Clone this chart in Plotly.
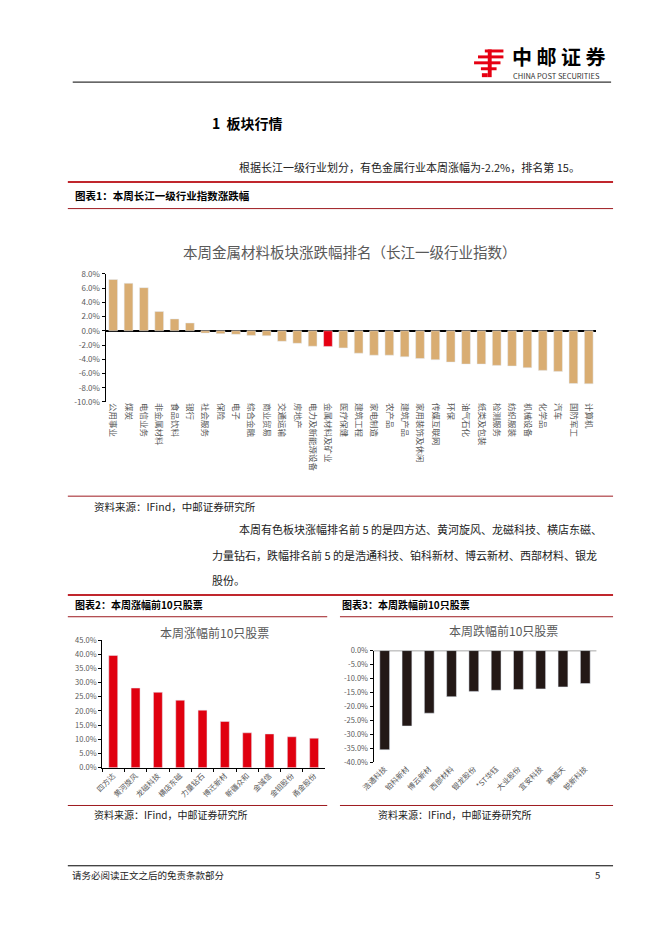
import plotly.graph_objects as go

# 图表1 数据
industries = ['公用事业', '煤炭', '电信业务', '非金属材料', '食品饮料', '银行', '社会服务', '保险',
              '电子', '综合金融', '商业贸易', '交通运输', '房地产', '电力及新能源设备', '金属材料及矿业',
              '医疗保健', '建筑工程', '家电制造', '农产品', '建筑产品', '家用装饰及休闲', '传媒互联网',
              '环保', '油气石化', '纸类及包装', '检测服务', '纺织服装', '机械设备', '化学品', '汽车',
              '国防军工', '计算机']
industry_chg = [7.2, 6.67, 6.06, 2.7, 1.67, 1.1, -0.32, -0.4, -0.5, -0.65, -0.7, -1.48, -1.76, -2.17,
                -2.2, -2.4, -3.15, -3.43, -3.43, -3.66, -3.9, -4.07, -4.4, -4.68, -4.68, -4.86, -4.95,
                -5.19, -5.56, -5.7, -7.4, -7.45]
highlight = '金属材料及矿业'

# 图表2 数据
up_names = ['四方达', '黄河旋风', '龙磁科技', '横店东磁', '力量钻石', '博迁新材', '新疆众和', '金诚信',
            '金钼股份', '甬金股份']
up_chg = [39.6, 28.1, 26.6, 23.8, 20.3, 16.3, 12.3, 11.9, 10.9, 10.4]

# 图表3 数据
down_names = ['浩通科技', '铂科新材', '博云新材', '西部材料', '银龙股份', '*ST华钰', '大业股份', '宜安科技',
              '赛福天', '锐新科技']
down_chg = [-35.5, -27.0, -22.4, -16.5, -14.6, -14.2, -13.9, -13.7, -13.0, -11.8]

ticks1 = [-10, -8, -6, -4, -2, 0, 2, 4, 6, 8]
ticks2 = [0, 5, 10, 15, 20, 25, 30, 35, 40, 45]
ticks3 = [0, -5, -10, -15, -20, -25, -30, -35, -40]

W, H = 662, 936
FONT = 'Noto Sans CJK SC'
GRAY = '#595959'


def px(x):
    return x / W


def py(y):
    return 1 - y / H


def lbl(v):
    return f'{v:.1f}%'


fig = go.Figure()

colors1 = ['#E60012' if n == highlight else '#D9AD72' for n in industries]
fig.add_trace(go.Bar(x=industries, y=industry_chg, marker_color=colors1, xaxis='x', yaxis='y',
                     showlegend=False))
fig.add_trace(go.Bar(x=up_names, y=up_chg, marker_color='#E0000F', xaxis='x2', yaxis='y2',
                     width=0.4, showlegend=False))
fig.add_trace(go.Bar(x=down_names, y=down_chg, marker_color='#231816', xaxis='x3', yaxis='y3',
                     width=0.44, showlegend=False))

tickfont = dict(family=FONT, size=7.5, color=GRAY)

fig.update_layout(
    width=W, height=H, margin=dict(l=0, r=0, t=0, b=0),
    paper_bgcolor='white', plot_bgcolor='white',
    font=dict(family=FONT),
    bargap=0.43,
    xaxis=dict(domain=[px(93.5), px(595)], type='category', showline=False, ticks='',
               tickangle=90, tickfont=dict(family=FONT, size=8.5, color=GRAY), anchor='y'),
    yaxis=dict(domain=[py(400.7), py(271)], range=[-10, 8], tickvals=ticks1,
               ticktext=[lbl(v) for v in ticks1], showline=True, linecolor='black', linewidth=1,
               ticks='outside', ticklen=3, tickcolor='black', showgrid=False, zeroline=True,
               zerolinecolor='black', zerolinewidth=1.5,
               tickfont=dict(family=FONT, size=8, color=GRAY), anchor='x'),
    xaxis2=dict(domain=[px(90), px(318)], type='category', showline=True, linecolor='black',
                linewidth=1, ticks='outside', tickson='boundaries', ticklen=3, tickcolor='black',
                tickangle=-45, tickfont=tickfont, anchor='y2'),
    yaxis2=dict(domain=[py(770.7), py(641.7)], range=[0, 45], tickvals=ticks2,
                ticktext=[lbl(v) for v in ticks2], showline=True, linecolor='black', linewidth=1,
                ticks='outside', ticklen=3, tickcolor='black', showgrid=False, zeroline=False,
                tickfont=tickfont, anchor='x2'),
    xaxis3=dict(domain=[px(367.3), px(595)], type='category', showline=False, ticks='',
                tickangle=-45, tickfont=tickfont, anchor='y3'),
    yaxis3=dict(domain=[py(765.3), py(652.3)], range=[-40, 0], tickvals=ticks3,
                ticktext=[lbl(v) for v in ticks3], showline=True, linecolor='black', linewidth=1,
                ticks='outside', ticklen=3, tickcolor='black', showgrid=False, zeroline=False,
                tickfont=tickfont, anchor='x3'),
)

# 图表3 的零轴线
fig.add_shape(type='line', xref='x3 domain', x0=0, x1=1, yref='y3', y0=0, y1=0,
              line=dict(color='black', width=1))


def hline(y, x0, x1, color, width):
    fig.add_shape(type='line', xref='paper', yref='paper', x0=px(x0), x1=px(x1), y0=py(y), y1=py(y),
                  line=dict(color=color, width=width))


hline(77, 60, 610, 'black', 1)
hline(178, 55, 612, '#C0262D', 2)
hline(205, 55, 612, '#9E1B20', 1)
hline(496, 55, 612, '#9E1B20', 1)
hline(596, 55, 612, '#C0262D', 2)
hline(618, 55, 320, '#9E1B20', 1)
hline(618, 333, 612, '#9E1B20', 1)
hline(809, 55, 320, '#9E1B20', 1)
hline(809, 333, 612, '#9E1B20', 1)
hline(870, 55, 612, 'black', 1)

# logo 图形
for x0, x1, y0, y1 in [(481, 500, 44, 47), (474, 500, 50, 53), (470, 497, 56, 59),
                       (477, 493, 62, 65), (484, 488, 44, 72), (478, 484, 68, 72)]:
    fig.add_shape(type='rect', xref='paper', yref='paper', x0=px(x0), x1=px(x1), y0=py(y1), y1=py(y0),
                  fillcolor='#E60012', line=dict(width=0))


def text(x, y, s, size, color='black', anchor='left', bold=False):
    if bold:
        s = f'<b>{s}</b>'
    fig.add_annotation(x=px(x), y=py(y), xref='paper', yref='paper', text=s, showarrow=False,
                       xanchor=anchor, yanchor='middle', font=dict(family=FONT, size=size, color=color))


text(507, 51, '中 邮 证 券', 20, 'black', bold=True)
text(508, 70, 'CHINA POST SECURITIES', 7.5, '#333333')
text(200, 118, '1  板块行情', 14, 'black', bold=True)
text(228, 163, '根据长江一级行业划分，有色金属行业本周涨幅为-2.2%，排名第 15。', 11, '#222222')
text(60, 192, '图表1：本周长江一级行业指数涨跌幅', 10.5, 'black', bold=True)
text(343, 248, '本周金属材料板块涨跌幅排名（长江一级行业指数）', 14.5, GRAY, anchor='center')
text(80, 506, '资料来源：IFind，中邮证券研究所', 10.5, '#222222')
text(228, 529, '本周有色板块涨幅排名前 5 的是四方达、黄河旋风、龙磁科技、横店东磁、', 11, '#222222')
text(200, 556, '力量钻石，跌幅排名前 5 的是浩通科技、铂科新材、博云新材、西部材料、银龙', 11, '#222222')
text(200, 581, '股份。', 11, '#222222')
text(60, 606, '图表2：本周涨幅前10只股票', 10, 'black', bold=True)
text(333, 606, '图表3：本周跌幅前10只股票', 10, 'black', bold=True)
text(205, 634, '本周涨幅前10只股票', 12, GRAY, anchor='center')
text(500, 632, '本周跌幅前10只股票', 12, GRAY, anchor='center')
text(80, 818, '资料来源：IFind，中邮证券研究所', 10, '#222222')
text(370, 818, '资料来源：IFind，中邮证券研究所', 10, '#222222')
text(57, 879, '请务必阅读正文之后的免责条款部分', 9.5, '#222222')
text(592, 879, '5', 9.5, '#222222')

# 去掉页面默认边距，让图正好贴满窗口
fig.write_html('out.html', config={'displayModeBar': False},
               post_script="document.body.style.margin='0';")
